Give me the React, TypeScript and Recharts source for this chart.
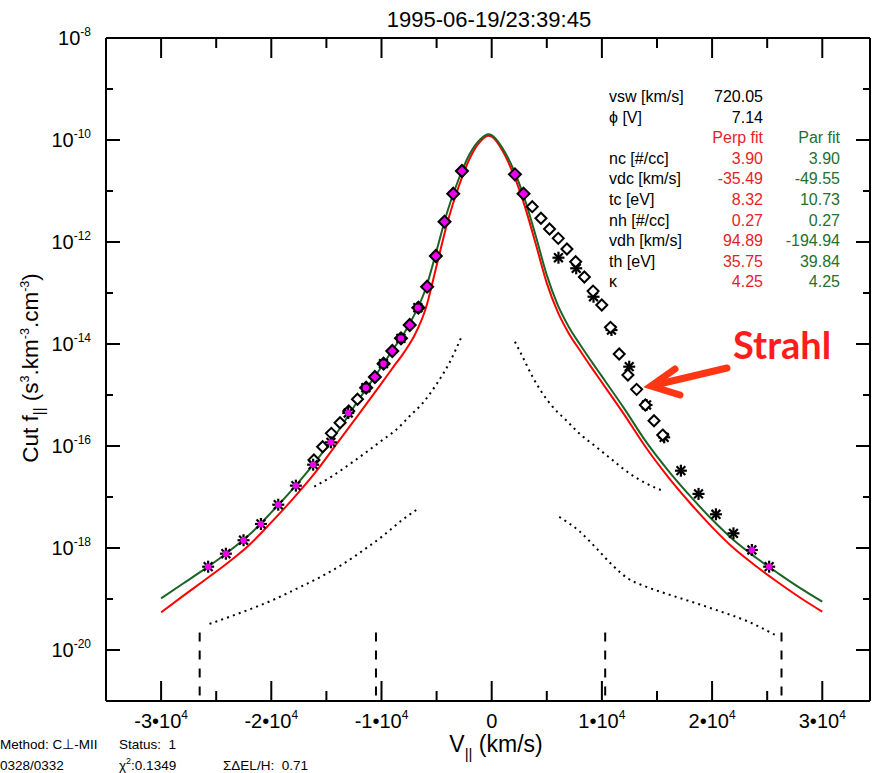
import React from 'react';
import { ComposedChart, Line, Scatter, XAxis, YAxis } from 'recharts';

// ---------------- data ----------------
// velocity grid of the two model curves (km/s)
const fitV = [-30000, -28000, -26000, -24000, -22000, -20000, -18000, -16000, -14000, -12000, -10000,
  -9000, -8000, -7000, -6000, -5000, -4000, -3000, -2000, -1000, -300, 0,
  1000, 2000, 3000, 4000, 5000, 6000, 7000, 8000, 9000, 10000,
  12000, 14000, 16000, 18000, 20000, 22000, 24000, 26000, 28000, 30000];
// Par fit (green)
const parFit = [1.03e-19, 2.01e-19, 3.93e-19, 8.09e-19, 1.81e-18, 4.99e-18, 1.48e-17, 4.88e-17, 1.88e-16, 8.53e-16, 3.57e-15,
  7.59e-15, 1.56e-14, 3.80e-14, 1.20e-13, 6.75e-13, 4.11e-12, 1.70e-11, 5.31e-11, 1.05e-10, 1.29e-10, 1.25e-10,
  6.81e-11, 2.58e-11, 6.90e-12, 1.31e-12, 2.24e-13, 5.77e-14, 2.16e-14, 9.86e-15, 4.71e-15, 2.32e-15,
  5.53e-16, 1.22e-16, 3.34e-17, 1.05e-17, 3.61e-18, 1.40e-18, 6.43e-19, 3.18e-19, 1.63e-19, 8.85e-20];
// Perp fit (red)
const perpFit = [5.48e-20, 1.15e-19, 2.39e-19, 5.04e-19, 1.15e-18, 3.18e-18, 9.40e-18, 3.03e-17, 1.15e-16, 4.38e-16, 1.69e-15,
  3.37e-15, 6.64e-15, 1.48e-14, 4.85e-14, 3.43e-13, 2.50e-12, 1.21e-11, 4.34e-11, 9.55e-11, 1.21e-10, 1.17e-10,
  6.08e-11, 2.06e-11, 5.04e-12, 9.10e-13, 1.56e-13, 4.21e-14, 1.61e-14, 7.52e-15, 3.59e-15, 1.77e-15,
  4.22e-16, 9.35e-17, 2.49e-17, 7.62e-18, 2.57e-18, 9.73e-19, 4.38e-19, 2.11e-19, 1.06e-19, 5.64e-20];

// diamonds used in the fit (magenta)
const fitDiamondV = [-2700, -3490, -4280, -5070, -5860, -6650, -7440, -8230, -9020, -9810, -10600, -11390, 2110, 2890];
const fitDiamondF = [2.47e-11, 8.85e-12, 2.50e-12, 5.31e-13, 1.33e-13, 5.15e-14, 2.36e-14, 1.29e-14, 7.29e-15, 4.11e-15, 2.25e-15, 1.39e-15, 2.12e-11, 8.85e-12];
// diamonds not used in the fit (open)
const openDiamondV = [-12180, -12970, -13760, -14550, -15340, -16130,
  3680, 4470, 5250, 6040, 6830, 7620, 8410, 9200, 9990, 10780, 11570, 12360, 13150, 13940, 14730, 15520];
const openDiamondF = [8.24e-16, 4.85e-16, 2.86e-16, 1.77e-16, 9.68e-17, 5.31e-17,
  4.92e-12, 2.92e-12, 1.80e-12, 1.18e-12, 7.29e-13, 4.11e-13, 2.06e-13, 1.09e-13, 5.82e-14, 2.12e-14, 6.37e-15, 2.47e-15, 1.29e-15, 6.37e-16, 3.13e-16, 1.64e-16];
// asterisks not used in the fit (black)
const starV = [6060, 7670, 9240, 10870, 12480, 14050, 15650, 17170, 18770, 20350, 21940];
const starF = [4.92e-13, 3.05e-13, 8.45e-14, 1.88e-14, 3.59e-15, 6.37e-16, 1.48e-16, 3.28e-17, 1.15e-17, 4.58e-18, 1.94e-18];
// asterisks used in the fit (magenta centre)
const fitStarV = [-6700, -8240, -9820, -11420, -13020, -14590, -16200, -17770, -19370, -20940, -22520, -24120, -25730, 23610, 25180];
const fitStarF = [5.15e-14, 1.29e-14, 4.11e-15, 1.39e-15, 4.44e-16, 1.18e-16, 4.30e-17, 1.67e-17, 7.06e-18, 2.96e-18, 1.42e-18, 7.73e-19, 4.30e-19, 9.14e-19, 4.30e-19];

// dotted curves
const dotULV = [-2800, -3860, -5060, -6280, -7490, -8690, -9910, -11420, -12930, -14450, -16170];
const dotULF = [1.29e-14, 4.19e-15, 1.57e-15, 6.87e-16, 3.76e-16, 2.06e-16, 1.31e-16, 7.46e-17, 4.34e-17, 2.58e-17, 1.57e-17];
const dotLLV = [-6850, -8120, -9940, -11750, -13570, -15380, -17470, -19650, -22910, -25770];
const dotLLF = [5.56e-18, 3.54e-18, 1.68e-18, 8.73e-19, 4.74e-19, 2.82e-19, 1.68e-19, 1.00e-19, 5.25e-20, 3.16e-20];
const dotURV = [2110, 2800, 3700, 4610, 5520, 6730, 7940, 9460, 10960, 12480, 13990, 15350];
const dotURF = [1.11e-14, 5.64e-15, 2.29e-15, 1.08e-15, 5.90e-16, 3.24e-16, 1.77e-16, 9.68e-17, 5.31e-17, 2.92e-17, 1.86e-17, 1.37e-17];
const dotLRV = [6130, 7940, 9480, 10940, 12300, 13840, 15650, 17920, 20640, 23370, 25730];
const dotLRF = [4.06e-18, 2.15e-18, 1.00e-18, 4.65e-19, 2.58e-19, 1.80e-19, 1.31e-19, 9.14e-20, 5.82e-20, 3.54e-20, 1.97e-20];

// dashed vertical markers
const dashV = [-26500, -10500, 10300, 26300];
const dashTopF = 2.2e-20;
const dashBottomF = 1e-21;

// axes
const xDomain = [-35000, 34330];
const yDomain = [1e-21, 1e-8];
const xMajorTicks = [-30000, -20000, -10000, 0, 10000, 20000, 30000];
const xMajorLabels = ['-3', '-2', '-1', '0', '1', '2', '3'];
const xMinorTicks = [-25000, -15000, -5000, 5000, 15000, 25000];
const yMajorExp = [-8, -10, -12, -14, -16, -18, -20];
const yMinorExp = [-9, -11, -13, -15, -17, -19];

// table
const infoNames = ['vsw [km/s]', 'ϕ [V]'];
const infoValues = ['720.05', '7.14'];
const paramNames = ['nc [#/cc]', 'vdc [km/s]', 'tc [eV]', 'nh [#/cc]', 'vdh [km/s]', 'th [eV]', 'κ'];
const perpParams = ['3.90', '-35.49', '8.32', '0.27', '94.89', '35.75', '4.25'];
const parParams = ['3.90', '-49.55', '10.73', '0.27', '-194.94', '39.84', '4.25'];

// ---------------- helpers ----------------
const pts = (xs: number[], ys: number[]) => xs.map((x, i) => ({ x, y: ys[i] }));
const FONT = "'Liberation Sans', Arial, Helvetica, sans-serif";
const GREEN = '#1b6426';
const RED = '#ff0000';
const TXT_RED = '#e51e27';
const TXT_GREEN = '#24702f';
const MAGENTA = '#f000f0';

const xTicks = [...xMajorTicks, ...xMinorTicks].sort((a, b) => a - b);
const yTicks = [...yMajorExp, ...yMinorExp].sort((a, b) => b - a).map((e) => Math.pow(10, e));

const isMajorX = (v: number) => xMajorTicks.indexOf(v) >= 0;
const expOf = (v: number) => Math.round(Math.log10(v));

const BottomTick = (p: any) => {
  const { x, y, payload } = p;
  const v = payload.value;
  const major = isMajorX(v);
  const idx = xMajorTicks.indexOf(v);
  const lab = idx >= 0 ? xMajorLabels[idx] : null;
  return (
    <g>
      <line x1={x} x2={x} y1={y} y2={y - (major ? 20 : 10)} stroke="#000" strokeWidth={2} />
      {lab !== null && (
        <text x={x} y={y + 27} textAnchor="middle" fontFamily={FONT} fontSize={20} fill="#000">
          {lab === '0' ? '0' : lab + '•10'}
          {lab !== '0' && <tspan dy={-9} fontSize={12}>4</tspan>}
        </text>
      )}
    </g>
  );
};

const TopTick = (p: any) => {
  const { x, y, payload } = p;
  const major = isMajorX(payload.value);
  return <line x1={x} x2={x} y1={y} y2={y + (major ? 20 : 10)} stroke="#000" strokeWidth={2} />;
};

const LeftTick = (p: any) => {
  const { x, y, payload } = p;
  const e = expOf(payload.value);
  const major = yMajorExp.indexOf(e) >= 0;
  return (
    <g>
      <line x1={x} x2={x + (major ? 14 : 7)} y1={y} y2={y} stroke="#000" strokeWidth={2} />
      {major && (
        <text x={x - 15} y={y + 7} textAnchor="end" fontFamily={FONT} fontSize={20} fill="#000">
          10<tspan dy={-9} fontSize={12}>{String(e)}</tspan>
        </text>
      )}
    </g>
  );
};

const RightTick = (p: any) => {
  const { x, y, payload } = p;
  const e = expOf(payload.value);
  const major = yMajorExp.indexOf(e) >= 0;
  return <line x1={x} x2={x - (major ? 14 : 7)} y1={y} y2={y} stroke="#000" strokeWidth={2} />;
};

const diamondPath = (cx: number, cy: number, r: number) =>
  `M${cx},${cy - r} L${cx + r},${cy} L${cx},${cy + r} L${cx - r},${cy} Z`;

const FitDiamond = (p: any) => (
  <path d={diamondPath(p.cx, p.cy, 6)} fill={MAGENTA} stroke="#000" strokeWidth={2} />
);
const OpenDiamond = (p: any) => (
  <path d={diamondPath(p.cx, p.cy, 5.5)} fill="#fff" stroke="#000" strokeWidth={2} />
);
const Star = (p: any) => {
  const { cx, cy } = p;
  const r = 6;
  const d = 4.4;
  return (
    <g stroke="#000" strokeWidth={2.2}>
      <line x1={cx - r} x2={cx + r} y1={cy} y2={cy} />
      <line x1={cx} x2={cx} y1={cy - r} y2={cy + r} />
      <line x1={cx - d} x2={cx + d} y1={cy - d} y2={cy + d} />
      <line x1={cx - d} x2={cx + d} y1={cy + d} y2={cy - d} />
    </g>
  );
};
const FitStar = (p: any) => (
  <g>
    <Star cx={p.cx} cy={p.cy} />
    <circle cx={p.cx} cy={p.cy} r={3.2} fill={MAGENTA} stroke="none" />
  </g>
);

const axisLine = { stroke: '#000', strokeWidth: 2 };

export default function App() {
  const common = { xAxisId: 'b', yAxisId: 'l', isAnimationActive: false } as any;
  const dotted = { stroke: '#000', strokeWidth: 2, strokeDasharray: '2 4.2', dot: false, type: 'monotone' as const };
  const rowY = (i: number) => 102 + i * 20.6;
  return (
    <div style={{ position: 'absolute', left: 0, top: 0, width: 877, height: 773, background: '#fff' }}>
      <ComposedChart width={877} height={773} margin={{ top: 37, right: 6, bottom: 71, left: 105 }}>
        <XAxis xAxisId="b" dataKey="x" type="number" domain={xDomain} allowDataOverflow ticks={xTicks} interval={0}
          tickSize={0} tickMargin={0} height={1} axisLine={axisLine} tickLine={false} tick={(p: any) => <BottomTick {...p} />} />
        <XAxis xAxisId="t" orientation="top" dataKey="x" type="number" domain={xDomain} allowDataOverflow ticks={xTicks} interval={0}
          tickSize={0} tickMargin={0} height={1} axisLine={axisLine} tickLine={false} tick={(p: any) => <TopTick {...p} />} />
        <YAxis yAxisId="l" dataKey="y" type="number" scale="log" domain={yDomain} allowDataOverflow ticks={yTicks} interval={0}
          tickSize={0} tickMargin={0} width={1} axisLine={axisLine} tickLine={false} tick={(p: any) => <LeftTick {...p} />} />
        <YAxis yAxisId="r" orientation="right" dataKey="y" type="number" scale="log" domain={yDomain} allowDataOverflow ticks={yTicks} interval={0}
          tickSize={0} tickMargin={0} width={1} axisLine={axisLine} tickLine={false} tick={(p: any) => <RightTick {...p} />} />

        <Line {...common} {...dotted} data={pts(dotULV, dotULF)} dataKey="y" />
        <Line {...common} {...dotted} data={pts(dotLLV, dotLLF)} dataKey="y" />
        <Line {...common} {...dotted} data={pts(dotURV, dotURF)} dataKey="y" />
        <Line {...common} {...dotted} data={pts(dotLRV, dotLRF)} dataKey="y" />
        {dashV.map((v) => (
          <Line key={'d' + v} {...common} type="linear" dot={false} stroke="#000" strokeWidth={2} strokeDasharray="9 9"
            data={[{ x: v, y: dashTopF }, { x: v, y: dashBottomF }]} dataKey="y" />
        ))}

        <Line {...common} type="monotone" dot={false} stroke={RED} strokeWidth={2} data={pts(fitV, perpFit)} dataKey="y" />
        <Line {...common} type="monotone" dot={false} stroke={GREEN} strokeWidth={2} data={pts(fitV, parFit)} dataKey="y" />

        <Scatter {...common} data={pts(starV, starF)} dataKey="y" shape={(p: any) => <Star cx={p.cx} cy={p.cy} />} />
        <Scatter {...common} data={pts(openDiamondV, openDiamondF)} dataKey="y" shape={(p: any) => <OpenDiamond {...p} />} />
        <Scatter {...common} data={pts(fitDiamondV, fitDiamondF)} dataKey="y" shape={(p: any) => <FitDiamond {...p} />} />
        <Scatter {...common} data={pts(fitStarV, fitStarF)} dataKey="y" shape={(p: any) => <FitStar {...p} />} />
      </ComposedChart>

      <svg width={877} height={773} style={{ position: 'absolute', left: 0, top: 0, pointerEvents: 'none' }} fontFamily={FONT}>
        <text x={489} y={27} textAnchor="middle" fontSize={22} fill="#000">1995-06-19/23:39:45</text>

        {/* y label */}
        <text transform="translate(38,368) rotate(-90)" textAnchor="middle" fontSize={22.5} fill="#000">
          Cut f<tspan dy={6} fontSize={15}>||</tspan>
          <tspan dy={-6} fontSize={22.5}> (s</tspan>
          <tspan dy={-9} fontSize={12.5}>3</tspan>
          <tspan dy={9} fontSize={22.5}>.km</tspan>
          <tspan dy={-9} fontSize={12.5}>-3</tspan>
          <tspan dy={9} fontSize={22.5}>.cm</tspan>
          <tspan dy={-9} fontSize={12.5}>-3</tspan>
          <tspan dy={9} fontSize={22.5}>)</tspan>
        </text>

        {/* x label */}
        <text x={496} y={752} textAnchor="middle" fontSize={23} fill="#000">
          V<tspan dy={7} fontSize={15}>||</tspan>
          <tspan dy={-7} fontSize={23}> (km/s)</tspan>
        </text>

        {/* table */}
        {infoNames.map((n, i) => (
          <g key={n}>
            <text x={609} y={rowY(i)} fontSize={16} fill="#000">{n}</text>
            <text x={763} y={rowY(i)} fontSize={16} fill="#000" textAnchor="end">{infoValues[i]}</text>
          </g>
        ))}
        <text x={763} y={rowY(2)} fontSize={16} fill={TXT_RED} textAnchor="end">Perp fit</text>
        <text x={840} y={rowY(2)} fontSize={16} fill={TXT_GREEN} textAnchor="end">Par fit</text>
        {paramNames.map((n, i) => (
          <g key={n}>
            <text x={609} y={rowY(i + 3)} fontSize={16} fill="#000">{n}</text>
            <text x={763} y={rowY(i + 3)} fontSize={16} fill={TXT_RED} textAnchor="end">{perpParams[i]}</text>
            <text x={840} y={rowY(i + 3)} fontSize={16} fill={TXT_GREEN} textAnchor="end">{parParams[i]}</text>
          </g>
        ))}

        {/* Strahl annotation */}
        <text x={733} y={359} fontSize={38} fontWeight="bold" fontFamily="Lato, 'Open Sans', sans-serif" fill="#ff1c1c">Strahl</text>
        <line x1={727} y1={368} x2={655} y2={385} stroke="#ff3514" strokeWidth={7} strokeLinecap="round" />
        <polyline points="675,369 651,386 680,395" fill="none" stroke="#ff3514" strokeWidth={7} strokeLinecap="round" strokeLinejoin="miter" />

        {/* bottom-left info */}
        <g fontSize={13.5} fill="#000">
          <text x={0} y={749} xmlSpace="preserve">Method: C⊥-MII</text>
          <text x={119} y={749} xmlSpace="preserve">Status:  1</text>
          <text x={0} y={770} xmlSpace="preserve">0328/0332</text>
          <text x={119} y={770}>χ<tspan dy={-6} fontSize={9}>2</tspan><tspan dy={6}>:0.1349</tspan></text>
          <text x={223} y={770} xmlSpace="preserve">ΣΔEL/H:  0.71</text>
        </g>
      </svg>
    </div>
  );
}
